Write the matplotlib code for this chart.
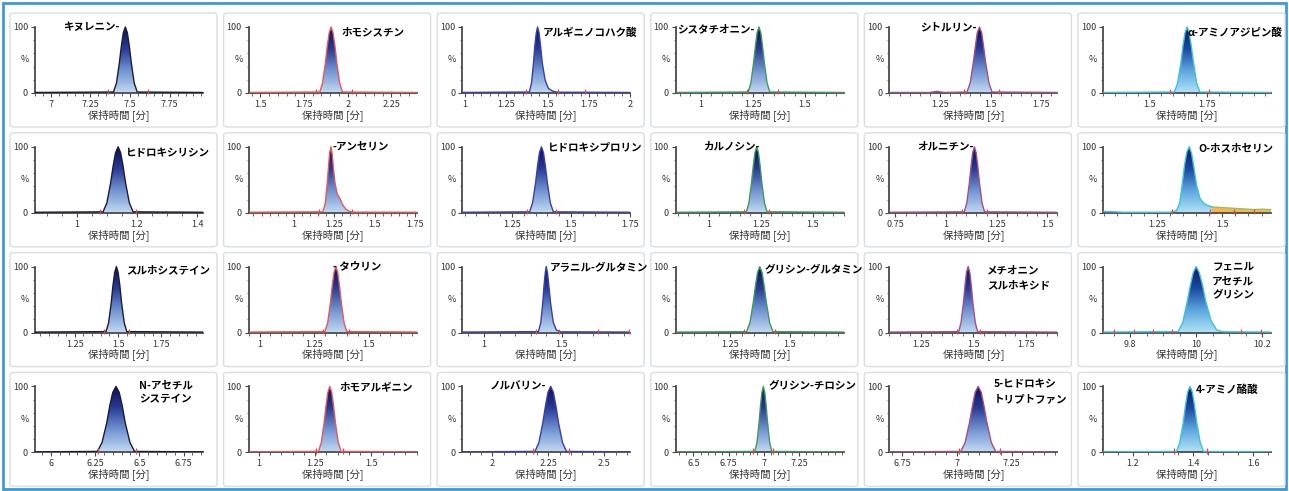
"""24-panel chromatogram grid (amino acid MRM traces)."""

import matplotlib
import matplotlib.pyplot as plt
import numpy as np
from matplotlib.colors import LinearSegmentedColormap
from matplotlib.patches import FancyBboxPatch, Polygon, Rectangle
from matplotlib.ticker import AutoMinorLocator, MultipleLocator

matplotlib.use("Agg")
plt.rcParams["font.family"] = ["Noto Sans CJK JP", "DejaVu Sans"]

FIG_W, FIG_H = 1289, 491
N_COLS, N_ROWS = 6, 4

NAMES = [
    "キヌレニン-", "ホモシスチン", "アルギニノコハク酸", "シスタチオニン-", "シトルリン-", "α-アミノアジピン酸",
    "ヒドロキシリシン", "-アンセリン", "ヒドロキシプロリン", "カルノシン-", "オルニチン-", "O-ホスホセリン",
    "スルホシステイン", "- タウリン", "アラニル-グルタミン", "グリシン-グルタミン", "メチオニン\nスルホキシド", "フェニル\nアセチル\nグリシン",
    "N-アセチル\nシステイン", "ホモアルギニン", "ノルバリン-", "グリシン-チロシン", "5-ヒドロキシ\nトリプトファン", "4-アミノ酪酸",
]

X_LIMITS = [
    (6.9, 7.96), (1.433, 2.394), (0.984, 2.0), (0.88, 1.686), (1.0, 1.83), (1.30, 2.025),
    (0.86, 1.42), (0.72, 1.76), (1.04, 1.75), (0.84, 1.65), (0.72, 1.55), (1.045, 1.686),
    (1.02, 1.99), (0.95, 1.72), (0.86, 1.94), (1.025, 1.725), (1.1, 1.9), (9.717, 10.227),
    (5.91, 6.86), (0.955, 1.70), (1.865, 2.615), (6.375, 7.565), (6.69, 7.46), (1.10, 1.66),
]

X_TICKS = [
    [7, 7.25, 7.5, 7.75], [1.5, 1.75, 2, 2.25], [1, 1.25, 1.5, 1.75, 2], [1, 1.25, 1.5], [1.25, 1.5, 1.75], [1.5, 1.75],
    [1, 1.2, 1.4], [1, 1.25, 1.5, 1.75], [1.25, 1.5, 1.75], [1, 1.25, 1.5], [0.75, 1, 1.25, 1.5], [1.25, 1.5],
    [1.25, 1.5, 1.75], [1, 1.25, 1.5], [1, 1.5], [1.25, 1.5], [1.25, 1.5, 1.75], [9.8, 10, 10.2],
    [6, 6.25, 6.5, 6.75], [1, 1.25, 1.5], [2, 2.25, 2.5], [6.5, 6.75, 7, 7.25], [6.75, 7, 7.25], [1.2, 1.4, 1.6],
]

X_TICK_LABELS = [
    ["7", "7.25", "7.5", "7.75"], ["1.5", "1.75", "2", "2.25"], ["1", "1.25", "1.5", "1.75", "2"], ["1", "1.25", "1.5"],
    ["1.25", "1.5", "1.75"], ["1.5", "1.75"],
    ["1", "1.2", "1.4"], ["1", "1.25", "1.5", "1.75"], ["1.25", "1.5", "1.75"], ["1", "1.25", "1.5"],
    ["0.75", "1", "1.25", "1.5"], ["1.25", "1.5"],
    ["1.25", "1.5", "1.75"], ["1", "1.25", "1.5"], ["1", "1.5"], ["1.25", "1.5"], ["1.25", "1.5", "1.75"],
    ["9.8", "10", "10.2"],
    ["6", "6.25", "6.5", "6.75"], ["1", "1.25", "1.5"], ["2", "2.25", "2.5"], ["6.5", "6.75", "7", "7.25"],
    ["6.75", "7", "7.25"], ["1.2", "1.4", "1.6"],
]

# retention time [min] / relative intensity [%] of each trace
TRACE_T = [
    [6.9, 7.395, 7.414, 7.432, 7.445, 7.457, 7.47, 7.483, 7.495, 7.508, 7.526, 7.545, 7.96],
    [1.433, 1.840, 1.856, 1.872, 1.883, 1.894, 1.905, 1.916, 1.927, 1.938, 1.954, 1.970, 2.394],
    [0.984, 1.39, 1.403, 1.415, 1.423, 1.432, 1.44, 1.449, 1.458, 1.468, 1.485, 1.505, 1.53, 1.56, 2.0],
    [0.88, 1.227, 1.240, 1.253, 1.262, 1.270, 1.279, 1.288, 1.296, 1.305, 1.318, 1.331, 1.686],
    [1.0, 1.20, 1.235, 1.27, 1.383, 1.399, 1.414, 1.425, 1.434, 1.445, 1.456, 1.465, 1.476, 1.492, 1.507, 1.83],
    [1.30, 1.608, 1.622, 1.636, 1.645, 1.654, 1.663, 1.672, 1.681, 1.691, 1.704, 1.718, 2.025],
    [0.86, 1.087, 1.0995, 1.112, 1.1205, 1.1285, 1.137, 1.1455, 1.1535, 1.162, 1.1745, 1.187, 1.42],
    [0.72, 1.18, 1.195, 1.207, 1.215, 1.222, 1.23, 1.238, 1.246, 1.255, 1.268, 1.285, 1.30, 1.32, 1.345, 1.37, 1.76],
    [1.04, 1.325, 1.3375, 1.35, 1.3585, 1.3665, 1.375, 1.3835, 1.3915, 1.40, 1.4125, 1.425, 1.75],
    [0.84, 1.18, 1.1925, 1.205, 1.2135, 1.2215, 1.23, 1.2385, 1.2465, 1.255, 1.2675, 1.28, 1.65],
    [0.72, 1.09, 1.1025, 1.115, 1.1235, 1.1315, 1.14, 1.1485, 1.1565, 1.165, 1.1775, 1.19, 1.55],
    [1.045, 1.09, 1.12, 1.30, 1.325, 1.338, 1.348, 1.356, 1.365, 1.374, 1.383, 1.392, 1.402, 1.415, 1.43, 1.445, 1.46],
    [1.02, 1.43, 1.445, 1.46, 1.47, 1.48, 1.49, 1.50, 1.51, 1.52, 1.535, 1.55, 1.99],
    [0.95, 1.30, 1.3125, 1.325, 1.3335, 1.3415, 1.35, 1.3585, 1.3665, 1.375, 1.3875, 1.40, 1.72],
    [0.86, 1.35, 1.365, 1.378, 1.386, 1.394, 1.40, 1.408, 1.417, 1.428, 1.445, 1.465, 1.49, 1.94],
    [1.025, 1.32, 1.334, 1.3475, 1.357, 1.3655, 1.375, 1.3845, 1.393, 1.4025, 1.416, 1.43, 1.725],
    [1.1, 1.43, 1.441, 1.4525, 1.46, 1.467, 1.475, 1.483, 1.49, 1.4975, 1.509, 1.52, 1.9],
    [9.717, 9.945, 9.959, 9.972, 9.982, 9.991, 10.0, 10.009, 10.019, 10.029, 10.045, 10.062, 10.08, 10.227],
    [5.91, 6.263, 6.289, 6.316, 6.333, 6.350, 6.368, 6.386, 6.403, 6.42, 6.447, 6.473, 6.86],
    [0.955, 1.265, 1.2775, 1.29, 1.2985, 1.3065, 1.315, 1.3235, 1.3315, 1.34, 1.3525, 1.365, 1.70],
    [1.865, 2.19, 2.2075, 2.225, 2.237, 2.248, 2.26, 2.272, 2.283, 2.295, 2.3125, 2.33, 2.615],
    [6.375, 6.935, 6.95, 6.965, 6.975, 6.985, 6.995, 7.005, 7.015, 7.025, 7.04, 7.055, 7.565],
    [6.69, 7.017, 7.037, 7.057, 7.071, 7.083, 7.097, 7.111, 7.123, 7.137, 7.157, 7.177, 7.46],
    [1.10, 1.345, 1.356, 1.3675, 1.375, 1.382, 1.39, 1.398, 1.405, 1.4125, 1.424, 1.435, 1.66],
]

TRACE_I = [
    [0.8, 1.5, 15, 45, 71, 91, 100, 91, 71, 45, 15, 1.5, 0.8],
    [0.8, 1.5, 15, 45, 71, 91, 100, 91, 71, 45, 15, 1.5, 0.8],
    [0.8, 1.5, 15, 45, 71, 91, 100, 91, 71, 46, 20, 7, 3, 1.2, 0.8],
    [0.8, 1.5, 15, 45, 71, 91, 100, 91, 71, 45, 15, 1.5, 0.8],
    [0.8, 0.8, 2.5, 0.8, 1.5, 15, 45, 71, 91, 100, 91, 71, 45, 15, 1.5, 0.8],
    [0.8, 1.5, 15, 45, 71, 91, 100, 91, 71, 45, 15, 1.5, 0.8],
    [0.8, 1.5, 15, 45, 71, 91, 100, 91, 71, 45, 15, 1.5, 0.8],
    [0.8, 1.5, 15, 45, 71, 91, 100, 88, 65, 45, 29, 22, 13, 6, 2, 1, 0.8],
    [0.8, 1.5, 15, 45, 71, 91, 100, 91, 71, 45, 15, 1.5, 0.8],
    [0.8, 1.5, 15, 45, 71, 91, 100, 91, 71, 45, 15, 1.5, 0.8],
    [0.8, 1.5, 15, 45, 71, 91, 100, 91, 71, 45, 15, 1.5, 0.8],
    [2, 1.5, 0.8, 0.8, 3, 15, 45, 72, 92, 100, 90, 68, 42, 22, 14, 11, 9],
    [0.8, 1.5, 15, 45, 71, 91, 100, 91, 71, 45, 15, 1.5, 0.8],
    [0.8, 1.5, 15, 45, 71, 91, 100, 91, 71, 45, 15, 1.5, 0.8],
    [0.8, 1.5, 15, 45, 71, 91, 100, 91, 71, 45, 16, 4, 1.2, 0.8],
    [0.8, 1.5, 15, 45, 71, 91, 100, 91, 71, 45, 15, 1.5, 0.8],
    [0.8, 1.5, 15, 45, 71, 91, 100, 91, 71, 45, 15, 1.5, 0.8],
    [0.8, 1.5, 15, 45, 71, 91, 100, 91, 72, 47, 18, 4, 1.2, 0.8],
    [0.8, 1.5, 15, 45, 71, 91, 100, 91, 71, 45, 15, 1.5, 0.8],
    [0.8, 1.5, 15, 45, 71, 91, 100, 91, 71, 45, 15, 1.5, 0.8],
    [0.8, 1.5, 15, 45, 71, 91, 100, 91, 71, 45, 15, 1.5, 0.8],
    [0.8, 1.5, 15, 45, 71, 91, 100, 91, 71, 45, 15, 1.5, 0.8],
    [0.8, 1.5, 15, 45, 71, 91, 100, 91, 71, 45, 15, 1.5, 0.8],
    [0.8, 1.5, 15, 45, 71, 91, 100, 91, 71, 45, 15, 1.5, 0.8],
]

# second (unresolved) region behind O-ホスホセリン
EXTRA_PANEL = 11
EXTRA_T = [1.46, 1.50, 1.54, 1.58, 1.62, 1.65, 1.686]
EXTRA_I = [9, 8, 7, 6, 5, 5.5, 5]

# integration markers on the baseline
MARKERS = [
    [7.36, 7.61], [1.817, 2.023], [1.368, 1.561, 1.724], [1.223, 1.371], [1.369, 1.541], [1.591, 1.757],
    [1.077, 1.197], [1.156, 1.358], [1.315, 1.435], [1.17, 1.29], [1.08, 1.20], [1.308, 1.455, 1.545, 1.622],
    [1.42, 1.56], [1.29, 1.41], [1.336, 1.48, 1.734, 1.932], [1.31, 1.44], [1.42, 1.53],
    [9.749, 9.811, 9.869, 9.926, 10.136, 10.197],
    [6.265, 6.48], [1.255, 1.375], [2.18, 2.34], [6.925, 7.065], [7.007, 7.198], [1.335, 1.445],
]

# label anchor: x in axes fraction, y in %, horizontal alignment
LABEL_POS = [
    (0.50, 100, "right"), (0.55, 92, "left"), (0.48, 91, "left"), (0.01, 97, "left"), (0.52, 100, "right"), (0.50, 91, "left"),
    (0.54, 91, "left"), (0.50, 100, "left"), (0.51, 100, "left"), (0.50, 100, "right"), (0.50, 100, "right"), (0.57, 98, "left"),
    (0.54, 94, "left"), (0.50, 100, "left"), (0.52, 97, "left"), (0.53, 95, "left"), (0.58, 83, "left"), (0.65, 78, "left"),
    (0.62, 91, "left"), (0.54, 97, "left"), (0.50, 100, "right"), (0.55, 100, "left"), (0.62, 92, "left"), (0.55, 95, "left"),
]

COLUMN_COLORS = ["#1c1c3a", "#e05a5a", "#3a3fa8", "#3f9a5a", "#a0508a", "#3cc0e0"]

FILL_BLUE = LinearSegmentedColormap.from_list("blue", ["#c4daf2", "#7396d2", "#2a3c94", "#0a0e55"])
FILL_CYAN = LinearSegmentedColormap.from_list("cyan", ["#b2e4f6", "#5ea8e0", "#1c4aa0", "#0a1a60"])

PANEL_X0, PANEL_PITCH_X, PANEL_W = 10, 213.6, 207
PANEL_Y0, PANEL_PITCH_Y, PANEL_H = 13, 119.8, 114


def px_box(left, top, width, height):
    """Pixel box (origin top-left) to figure fractions."""
    return [left / FIG_W, 1 - (top + height) / FIG_H, width / FIG_W, height / FIG_H]


def draw_panel(fig, index):
    row, col = divmod(index, N_COLS)
    panel_left = PANEL_X0 + PANEL_PITCH_X * col
    panel_top = PANEL_Y0 + PANEL_PITCH_Y * row

    fig.patches.append(
        FancyBboxPatch(
            (panel_left / FIG_W, 1 - (panel_top + PANEL_H) / FIG_H),
            PANEL_W / FIG_W,
            PANEL_H / FIG_H,
            boxstyle="round,pad=0,rounding_size=0.004",
            transform=fig.transFigure,
            facecolor="white",
            edgecolor="#d9dee2",
            linewidth=1.0,
            zorder=-5,
        )
    )

    y_top = 104.0
    axes_h = 66 * y_top / 100
    ax = fig.add_axes(px_box(panel_left + 25, panel_top + 80 - axes_h, 168, axes_h))
    ax.set_facecolor("none")

    x0, x1 = X_LIMITS[index]
    times = np.array(TRACE_T[index])
    values = np.array(TRACE_I[index])
    color = COLUMN_COLORS[col]
    cmap = FILL_CYAN if col == 5 else FILL_BLUE

    gradient = np.linspace(0, 1, 256).reshape(-1, 1)
    image = ax.imshow(gradient, extent=[x0, x1, 0, 100], origin="lower", cmap=cmap, aspect="auto", zorder=2)
    outline = np.column_stack([np.r_[times[0], times, times[-1]], np.r_[0, values, 0]])
    clip = Polygon(outline, closed=True, transform=ax.transData, facecolor="none", edgecolor="none")
    ax.add_patch(clip)
    image.set_clip_path(clip)

    if index == EXTRA_PANEL:
        ax.fill_between(EXTRA_T, EXTRA_I, 0, facecolor="#f2b84a", edgecolor="none", zorder=2)
        ax.plot(EXTRA_T, EXTRA_I, color="#8cc06a", linewidth=0.9, zorder=3)

    ax.plot(times, values, color=color, linewidth=1.0, zorder=3)
    ax.vlines(MARKERS[index], -2, 6, color="#e04848", linewidth=0.9, zorder=4, clip_on=False)

    ax.set_xlim(x0, x1)
    ax.set_ylim(0, y_top)
    for side in ("top", "right"):
        ax.spines[side].set_visible(False)
    for side in ("left", "bottom"):
        ax.spines[side].set_color("#4a4a4a")
        ax.spines[side].set_linewidth(1.3)
    ax.spines["left"].set_bounds(0, 100)

    ax.set_xticks(X_TICKS[index])
    ax.set_xticklabels(X_TICK_LABELS[index])
    ax.xaxis.set_minor_locator(AutoMinorLocator())
    ax.set_yticks([0, 100])
    ax.set_yticklabels(["0", "100"])
    ax.yaxis.set_minor_locator(MultipleLocator(20))
    ax.tick_params(which="major", length=3, width=0.8, color="#4a4a4a", labelsize=6.5, labelcolor="#333333", pad=2)
    ax.tick_params(which="minor", length=1.8, width=0.6, color="#4a4a4a")
    ax.text(-0.035, 50, "%", transform=ax.get_yaxis_transform(), ha="right", va="center", fontsize=6.5, color="#333333")
    ax.set_xlabel("保持時間 [分]", fontsize=7.5, color="#333333", labelpad=0)

    lx, ly, ha = LABEL_POS[index]
    ax.text(
        lx, ly, NAMES[index], transform=ax.get_yaxis_transform(), ha=ha, va="center",
        fontsize=7.6, fontweight="bold", color="black", linespacing=1.55, zorder=5,
    )


def main():
    fig = plt.figure(figsize=(FIG_W / 100, FIG_H / 100), dpi=100)
    fig.patch.set_facecolor("white")
    fig.patches.append(
        Rectangle(
            (3 / FIG_W, 2 / FIG_H), (FIG_W - 6) / FIG_W, (FIG_H - 5) / FIG_H,
            transform=fig.transFigure, facecolor="none", edgecolor="#3c9ad6", linewidth=2.0, zorder=-6,
        )
    )
    for index in range(N_COLS * N_ROWS):
        draw_panel(fig, index)
    fig.savefig("out.png", dpi=100, facecolor="white")
    plt.close(fig)


if __name__ == "__main__":
    main()
